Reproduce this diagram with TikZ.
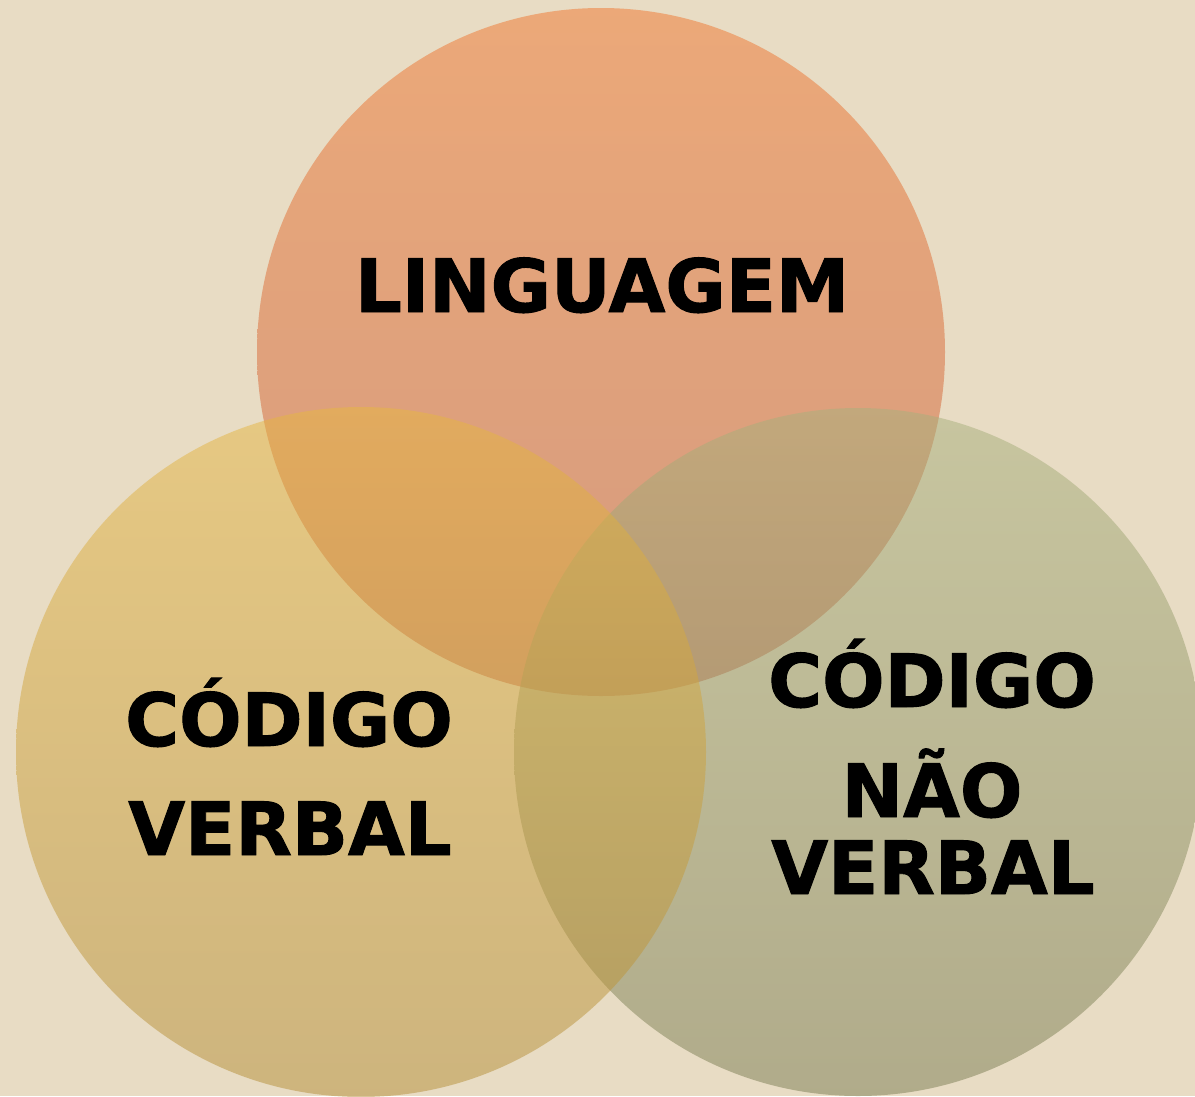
\documentclass[tikz,border=0pt]{standalone}
\usepackage{fontspec}
\setmainfont[BoldFeatures={FakeBold=1.3}]{DejaVu Sans}
\definecolor{bgc}{RGB}{232,220,196}
\definecolor{topA}{RGB}{240,118,46}
\definecolor{topB}{RGB}{194,90,60}
\definecolor{leftA}{RGB}{230,182,66}
\definecolor{leftB}{RGB}{180,142,56}
\definecolor{rightA}{RGB}{168,176,124}
\definecolor{rightB}{RGB}{122,124,82}
\begin{document}
\begin{tikzpicture}[x=1pt,y=-1pt,
  venn/.style={fill opacity=0.5},
  lbl/.style={anchor=base,inner sep=0pt,font=\fontsize{73.5}{80}\selectfont\bfseries,text=black}]
\fill[bgc] (0,0) rectangle (1195,1096);
\useasboundingbox (0,0) rectangle (1195,1096);
\begin{scope}
\clip (0,0) rectangle (1195,1096);
\shade[venn,top color=topA,bottom color=topB] (601,352) circle[radius=344];
\shade[venn,top color=rightA,bottom color=rightB] (858,752) circle[radius=344];
\shade[venn,top color=leftA,bottom color=leftB] (361,752) circle[radius=345];
\end{scope}
\node[lbl] (ling) at (602,312) {LINGUAGEM};
\node[lbl] (cv1) at (289,746) {CÓDIGO};
\node[lbl] (cv2) at (290,855) {VERBAL};
\node[lbl] (cn1) at (932,707) {CÓDIGO};
\node[lbl] (cn2) at (932,817) {NÃO};
\node[lbl] (cn3) at (933,894) {VERBAL};
\end{tikzpicture}
\end{document}
